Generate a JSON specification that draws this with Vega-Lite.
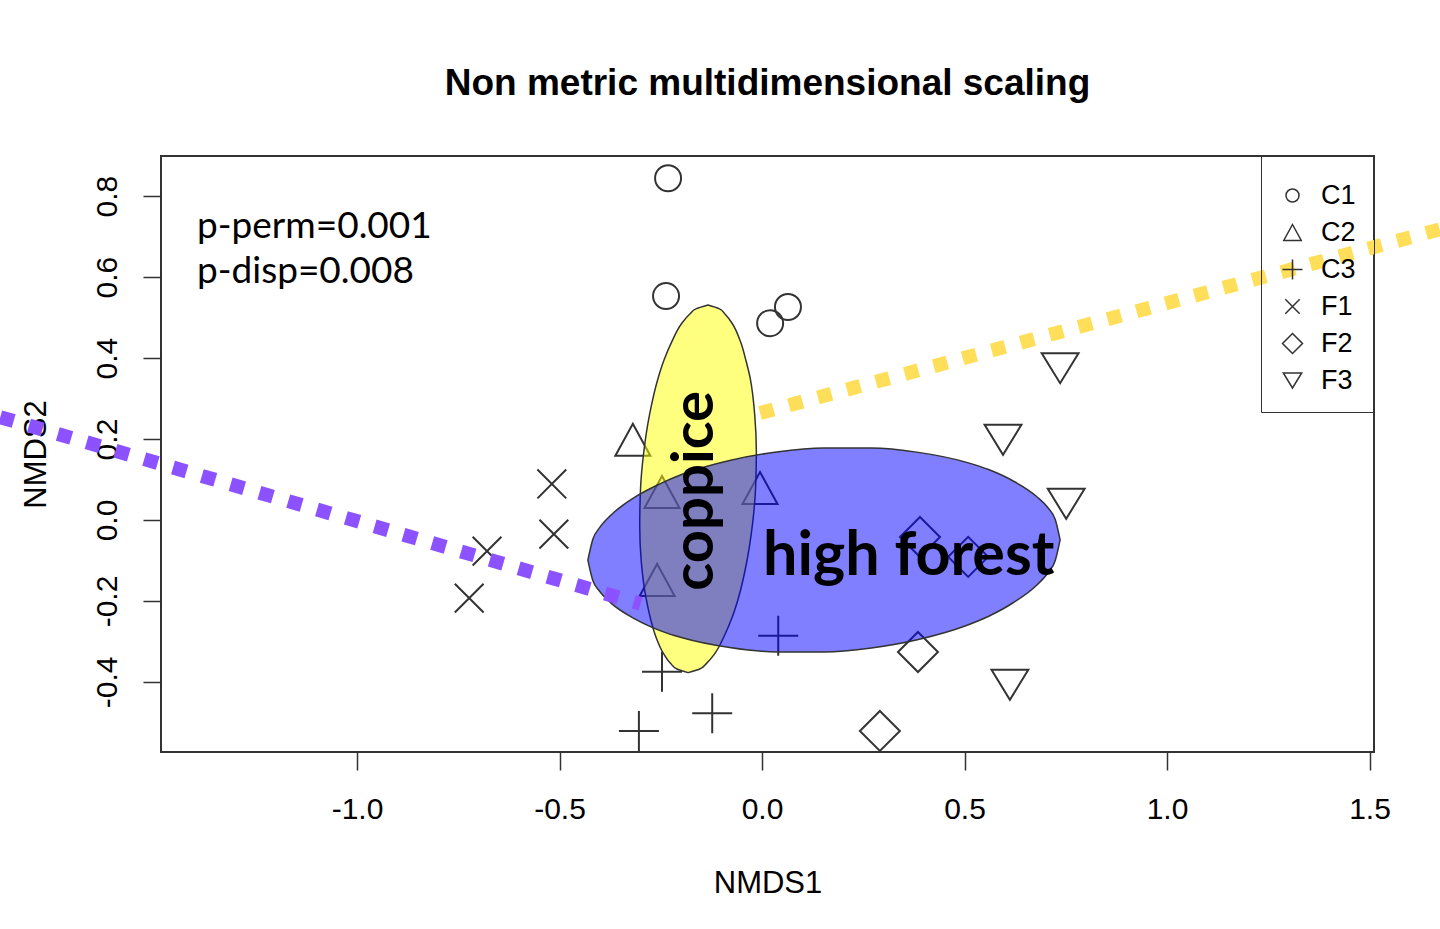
{
  "$schema": "https://vega.github.io/schema/vega-lite/v6.json",
  "width": 1213,
  "height": 596,
  "autosize": {"type": "none"},
  "padding": {"left": 161, "top": 156, "right": 66, "bottom": 177},
  "background": "#ffffff",
  "title": {"text": "Non metric multidimensional scaling", "font": "Liberation Sans", "fontSize": 37, "fontWeight": "bold", "color": "#000000", "anchor": "middle", "baseline": "alphabetic", "offset": 24},
  "config": {
    "view": {"stroke": "#333333", "strokeWidth": 2},
    "axis": {"grid": false, "domain": false, "tickSize": 18, "tickColor": "#333333", "tickWidth": 1.5, "labelFont": "Liberation Sans", "labelFontSize": 30, "labelColor": "#000000", "titleFont": "Liberation Sans", "titleFontSize": 31, "titleFontWeight": "normal", "titleColor": "#000000", "labelOverlap": false, "labelFlush": false}
  },
  "datasets": {
    "points": [
      {"NMDS1": -0.232, "NMDS2": 0.844, "group": "C1"},
      {"NMDS1": -0.237, "NMDS2": 0.553, "group": "C1"},
      {"NMDS1": 0.020, "NMDS2": 0.486, "group": "C1"},
      {"NMDS1": 0.064, "NMDS2": 0.526, "group": "C1"},
      {"NMDS1": -0.319, "NMDS2": 0.198, "group": "C2"},
      {"NMDS1": -0.247, "NMDS2": 0.069, "group": "C2"},
      {"NMDS1": -0.005, "NMDS2": 0.079, "group": "C2"},
      {"NMDS1": -0.259, "NMDS2": -0.148, "group": "C2"},
      {"NMDS1": -0.247, "NMDS2": -0.375, "group": "C3"},
      {"NMDS1": -0.304, "NMDS2": -0.521, "group": "C3"},
      {"NMDS1": -0.123, "NMDS2": -0.477, "group": "C3"},
      {"NMDS1": 0.040, "NMDS2": -0.286, "group": "C3"},
      {"NMDS1": -0.519, "NMDS2": 0.089, "group": "F1"},
      {"NMDS1": -0.514, "NMDS2": -0.035, "group": "F1"},
      {"NMDS1": -0.679, "NMDS2": -0.077, "group": "F1"},
      {"NMDS1": -0.723, "NMDS2": -0.193, "group": "F1"},
      {"NMDS1": 0.390, "NMDS2": -0.042, "group": "F2"},
      {"NMDS1": 0.509, "NMDS2": -0.091, "group": "F2"},
      {"NMDS1": 0.385, "NMDS2": -0.326, "group": "F2"},
      {"NMDS1": 0.291, "NMDS2": -0.521, "group": "F2"},
      {"NMDS1": 0.736, "NMDS2": 0.375, "group": "F3"},
      {"NMDS1": 0.595, "NMDS2": 0.198, "group": "F3"},
      {"NMDS1": 0.751, "NMDS2": 0.040, "group": "F3"},
      {"NMDS1": 0.612, "NMDS2": -0.407, "group": "F3"}
    ],
    "coppice": [
      {"y": -0.377, "xl": -0.1825, "xr": -0.1825},
      {"y": -0.368, "xl": -0.210, "xr": -0.154},
      {"y": -0.354, "xl": -0.226, "xr": -0.137},
      {"y": -0.332, "xl": -0.242, "xr": -0.118},
      {"y": -0.286, "xl": -0.263, "xr": -0.093},
      {"y": -0.241, "xl": -0.276, "xr": -0.074},
      {"y": -0.195, "xl": -0.286, "xr": -0.059},
      {"y": -0.105, "xl": -0.298, "xr": -0.038},
      {"y": -0.014, "xl": -0.302, "xr": -0.024},
      {"y": 0.077, "xl": -0.300, "xr": -0.016},
      {"y": 0.168, "xl": -0.292, "xr": -0.014},
      {"y": 0.259, "xl": -0.278, "xr": -0.018},
      {"y": 0.349, "xl": -0.257, "xr": -0.029},
      {"y": 0.395, "xl": -0.242, "xr": -0.040},
      {"y": 0.440, "xl": -0.223, "xr": -0.053},
      {"y": 0.486, "xl": -0.198, "xr": -0.074},
      {"y": 0.508, "xl": -0.179, "xr": -0.091},
      {"y": 0.522, "xl": -0.162, "xr": -0.106},
      {"y": 0.531, "xl": -0.1335, "xr": -0.1335}
    ],
    "highforest": [
      {"x": -0.430, "yl": -0.099, "yh": -0.099},
      {"x": -0.418, "yl": -0.149, "yh": -0.048},
      {"x": -0.401, "yl": -0.176, "yh": -0.019},
      {"x": -0.372, "yl": -0.206, "yh": 0.013},
      {"x": -0.313, "yl": -0.245, "yh": 0.057},
      {"x": -0.255, "yl": -0.272, "yh": 0.088},
      {"x": -0.197, "yl": -0.291, "yh": 0.113},
      {"x": -0.080, "yl": -0.315, "yh": 0.147},
      {"x": 0.036, "yl": -0.326, "yh": 0.168},
      {"x": 0.153, "yl": -0.326, "yh": 0.178},
      {"x": 0.270, "yl": -0.316, "yh": 0.178},
      {"x": 0.386, "yl": -0.295, "yh": 0.167},
      {"x": 0.503, "yl": -0.261, "yh": 0.143},
      {"x": 0.561, "yl": -0.237, "yh": 0.124},
      {"x": 0.619, "yl": -0.205, "yh": 0.097},
      {"x": 0.678, "yl": -0.161, "yh": 0.058},
      {"x": 0.707, "yl": -0.129, "yh": 0.029},
      {"x": 0.724, "yl": -0.100, "yh": 0.001},
      {"x": 0.736, "yl": -0.049, "yh": -0.049}
    ],
    "purple": [
      {"x": -1.881, "y": 0.254},
      {"x": -0.300, "y": -0.207}
    ],
    "yellow": [
      {"x": -0.005, "y": 0.264},
      {"x": 1.674, "y": 0.718}
    ],
    "bigLabels": [
      {"x": 0.0025, "y": -0.136, "label": "high forest"}
    ],
    "vertLabels": [
      {"x": -0.121, "y": 0.072, "label": "coppice"}
    ],
    "stats": [
      {"x": -1.395, "y": 0.696, "label": "p-perm=0.001"},
      {"x": -1.395, "y": 0.585, "label": "p-disp=0.008"}
    ]
  },
  "layer": [
    {
      "data": {"name": "points"},
      "mark": {"type": "point", "filled": false, "strokeWidth": 2, "color": "#333333", "size": 1600, "opacity": 1},
      "encoding": {
        "x": {"field": "NMDS1", "type": "quantitative", "title": "NMDS1",
          "scale": {"domain": [-1.484, 1.511], "nice": false, "zero": false},
          "axis": {"values": [-1, -0.5, 0, 0.5, 1, 1.5], "labelExpr": "replace(format(datum.value, '.1f'), '\u2212', '-')", "labelPadding": 24, "titleY": 140, "titleBaseline": "alphabetic"}},
        "y": {"field": "NMDS2", "type": "quantitative", "title": "NMDS2",
          "scale": {"domain": [-0.573, 0.899], "nice": false, "zero": false},
          "axis": {"values": [-0.4, -0.2, 0, 0.2, 0.4, 0.6, 0.8], "labelExpr": "replace(format(datum.value, '.1f'), '\u2212', '-')", "labelAngle": 270, "labelAlign": "center", "labelBaseline": "alphabetic", "labelPadding": 27, "titleX": -116, "titleY": 298, "titleAngle": 270, "titleAlign": "center", "titleBaseline": "alphabetic"}},
        "shape": {"field": "group", "type": "nominal",
          "scale": {"domain": ["C1", "C2", "C3", "F1", "F2", "F3"],
            "range": [
              "M-0.65,0A0.65,0.65,0,1,1,0.65,0A0.65,0.65,0,1,1,-0.65,0Z",
              "M0,-0.8L0.875,0.8L-0.875,0.8Z",
              "M-1,0L1,0M0,-1L0,1",
              "M-0.72,-0.72L0.72,0.72M-0.72,0.72L0.72,-0.72",
              "M0,-1L1,0L0,1L-1,0Z",
              "M-0.92,-0.75L0.92,-0.75L0,0.75Z"
            ]},
          "legend": {"title": " ", "titleFontSize": 4, "titlePadding": 4, "orient": "top-right", "offset": 0, "strokeColor": "#333333", "padding": 18, "symbolSize": 400, "symbolStrokeWidth": 1.5, "symbolStrokeColor": "#333333", "symbolFillColor": "transparent", "labelFont": "Liberation Sans", "labelFontSize": 27, "labelColor": "#000000", "labelOffset": 15, "rowPadding": 9, "zindex": 0,
            "encode": {"legend": {"update": {"strokeWidth": {"value": 2}}}}}}
      }
    },
    {
      "data": {"name": "coppice"},
      "mark": {"type": "area", "orient": "horizontal", "interpolate": "monotone", "fill": "#ffff00", "fillOpacity": 0.5, "stroke": "#333333", "strokeWidth": 1.5, "opacity": 1},
      "encoding": {
        "y": {"field": "y", "type": "quantitative", "title": "NMDS2"},
        "x": {"field": "xl", "type": "quantitative", "title": "NMDS1"},
        "x2": {"field": "xr"}
      }
    },
    {
      "data": {"name": "highforest"},
      "mark": {"type": "area", "orient": "vertical", "interpolate": "monotone", "fill": "#0000ff", "fillOpacity": 0.5, "stroke": "#333333", "strokeWidth": 1.5, "opacity": 1},
      "encoding": {
        "x": {"field": "x", "type": "quantitative", "title": "NMDS1"},
        "y": {"field": "yl", "type": "quantitative", "title": "NMDS2"},
        "y2": {"field": "yh"}
      }
    },
    {
      "data": {"name": "purple"},
      "mark": {"type": "line", "color": "#8c52ff", "strokeWidth": 14, "strokeDash": [14, 16], "strokeCap": "butt"},
      "encoding": {
        "x": {"field": "x", "type": "quantitative", "title": "NMDS1"},
        "y": {"field": "y", "type": "quantitative", "title": "NMDS2"}
      }
    },
    {
      "data": {"name": "yellow"},
      "mark": {"type": "line", "color": "#ffde59", "strokeWidth": 14, "strokeDash": [14, 16], "strokeCap": "butt"},
      "encoding": {
        "x": {"field": "x", "type": "quantitative", "title": "NMDS1"},
        "y": {"field": "y", "type": "quantitative", "title": "NMDS2"}
      }
    },
    {
      "data": {"name": "vertLabels"},
      "mark": {"type": "text", "font": "Lato", "fontWeight": "bold", "fontSize": 58, "angle": 270, "align": "center", "baseline": "alphabetic", "color": "#000000"},
      "encoding": {
        "x": {"field": "x", "type": "quantitative", "title": "NMDS1"},
        "y": {"field": "y", "type": "quantitative", "title": "NMDS2"},
        "text": {"field": "label"}
      }
    },
    {
      "data": {"name": "bigLabels"},
      "mark": {"type": "text", "font": "Lato", "fontWeight": "bold", "fontSize": 61, "align": "left", "baseline": "alphabetic", "color": "#000000"},
      "encoding": {
        "x": {"field": "x", "type": "quantitative", "title": "NMDS1"},
        "y": {"field": "y", "type": "quantitative", "title": "NMDS2"},
        "text": {"field": "label"}
      }
    },
    {
      "data": {"name": "stats"},
      "mark": {"type": "text", "font": "Lato", "fontSize": 37, "align": "left", "baseline": "alphabetic", "color": "#000000"},
      "encoding": {
        "x": {"field": "x", "type": "quantitative", "title": "NMDS1"},
        "y": {"field": "y", "type": "quantitative", "title": "NMDS2"},
        "text": {"field": "label"}
      }
    }
  ]
}
